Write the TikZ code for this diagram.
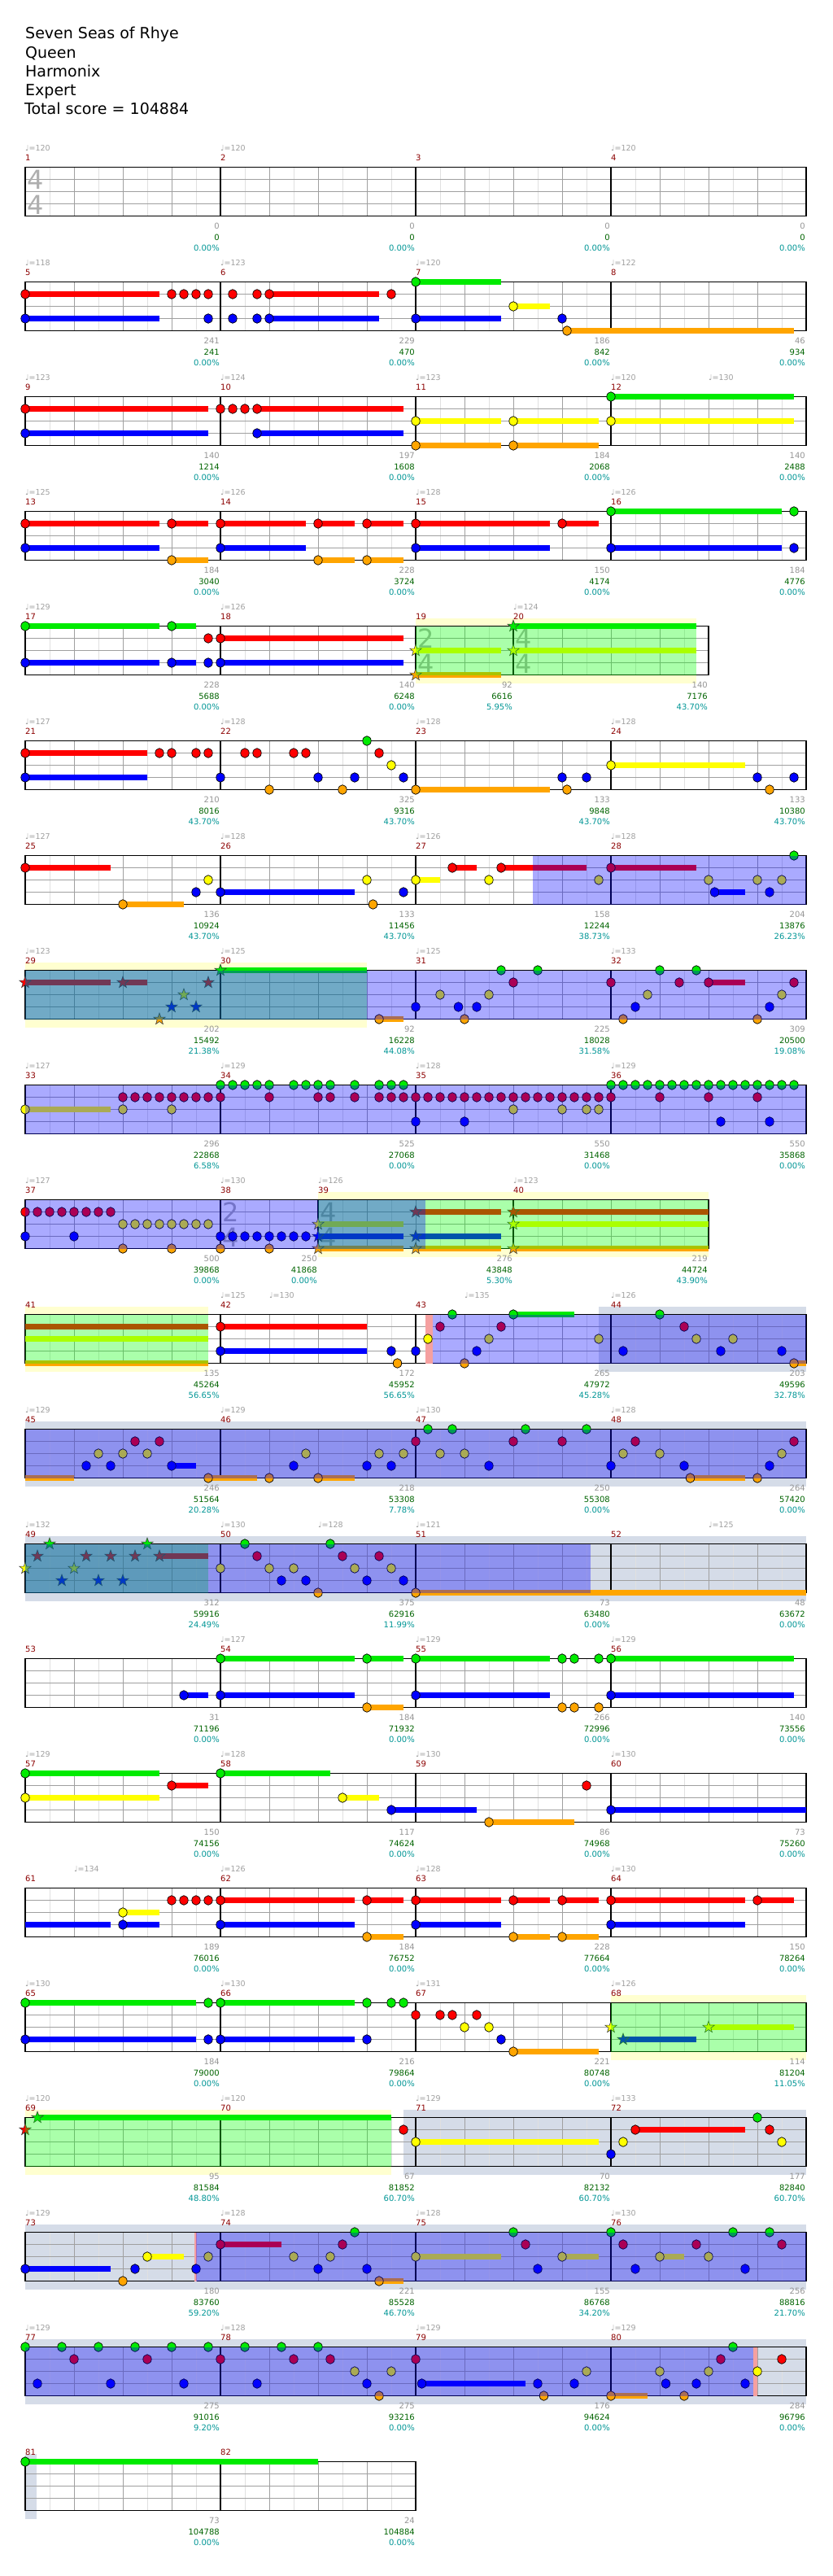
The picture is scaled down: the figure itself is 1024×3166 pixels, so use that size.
\documentclass[tikz,border=0pt]{standalone}
\usepackage{fontspec}
\setmainfont{DejaVu Sans}
\definecolor{l0}{RGB}{0,235,0}
\definecolor{l1}{RGB}{255,0,0}
\definecolor{l2}{RGB}{255,255,0}
\definecolor{l3}{RGB}{0,0,255}
\definecolor{l4}{RGB}{255,165,0}
\definecolor{bandy}{RGB}{255,255,208}
\definecolor{bandg}{RGB}{213,220,232}
\definecolor{pinks}{RGB}{245,160,160}
\definecolor{ovg}{RGB}{0,255,0}
\definecolor{ovb}{RGB}{0,0,255}
\definecolor{mred}{RGB}{140,0,0}
\definecolor{sgr}{RGB}{150,150,150}
\definecolor{sgn}{RGB}{0,100,0}
\definecolor{stl}{RGB}{0,150,150}
\definecolor{tgr}{RGB}{160,160,160}
\definecolor{tsg}{RGB}{175,175,175}
\definecolor{gleight}{RGB}{224,224,224}
\definecolor{glbeat}{RGB}{160,160,160}
\tikzset{
 lab/.style={inner sep=0pt, font=\fontsize{10}{12}\selectfont},
 mnum/.style={lab, anchor=base west, text=mred},
 tempo/.style={lab, anchor=base west, text=tgr, font=\fontsize{9.5}{11}\selectfont},
 scg/.style={lab, anchor=base east, text=sgr, xshift=-1pt},
 scn/.style={lab, anchor=base east, text=sgn, xshift=-1pt},
 scp/.style={lab, anchor=base east, text=stl, xshift=-1pt},
 tsig/.style={inner sep=0pt, text=tsg, font=\fontsize{32}{32}\selectfont},
 ttl/.style={inner sep=0pt, anchor=base west, font=\fontsize{19}{23}\selectfont},
 eline/.style={draw=gleight, line width=0.8pt},
 bline/.style={draw=glbeat, line width=1pt},
 mline/.style={draw=black, line width=1.05pt},
 lline/.style={draw=glbeat, line width=1.1pt},
 bdr/.style={draw=black, line width=1.4pt},
}
\newcommand\nN[2]{\filldraw[fill=l#1,draw=black,line width=0.7pt] (#2,{15*#1}) ellipse [x radius=5.2pt, y radius=5.8pt];}
\newcommand\nSu[3]{\fill[l#1] (#2,{15*#1-3.4}) rectangle (#3,{15*#1+3.4});}
\newcommand\nNS[3]{\nSu{#1}{#2}{#3}\nN{#1}{#2}}
\newcommand\nSt[2]{\filldraw[fill=l#1,draw=black!75,line width=0.6pt] (#2,{15*#1}) +(90:7.5pt) -- +(126:3pt) -- +(162:7.5pt) -- +(198:3pt) -- +(234:7.5pt) -- +(270:3pt) -- +(306:7.5pt) -- +(342:3pt) -- +(18:7.5pt) -- +(54:3pt) -- cycle;}
\newcommand\nSS[3]{\nSu{#1}{#2}{#3}\nSt{#1}{#2}}
\newcommand\nGrid[2]{%
 \foreach \bb in {0.5,1.5,...,#1} {\draw[eline] (\bb,0) -- (\bb,60);}
 \foreach \bb in {1,...,#1} {\draw[bline] (\bb,0) -- (\bb,60);}
 \foreach \jj in {15,30,45} {\draw[lline] (0,\jj) -- (#1,\jj);}
 \foreach \bb in {#2} {\draw[mline] (\bb,0) -- (\bb,60);}
 \draw[bdr] (0,0) rectangle (#1,60);}
\newcommand\nML[6]{\node[mnum] (n-#1) at (#2,-8) {#1};
 \node[scg] (g-#1) at (#3,76) {#4};
 \node[scn] (s-#1) at (#3,89.5) {#5};
 \node[scp] (p-#1) at (#3,102.5) {#6};}
\newcommand\nTp[3]{\node[tempo] (t-#1) at (#2,-20) {♩=#3};}
\newcommand\nTs[4]{\node[tsig] (ts-#1a) at (#2+0.21,15) {#3}; \node[tsig] (ts-#1b) at (#2+0.21,46) {#4};}
\newcommand\nBY[2]{\fill[bandy] (#1,-10) rectangle (#2,0); \fill[bandy] (#1,60) rectangle (#2,70);}
\newcommand\nBG[2]{\fill[bandg] (#1,-10) rectangle (#2,70);}
\newcommand\nOv[3]{\fill[#1,fill opacity=0.3333] (#2,0) rectangle (#3,60);}
\newcommand\nPk[2]{\fill[pinks] (#1,0) rectangle (#2,60);}
\begin{document}
\begin{tikzpicture}[x=1pt,y=-1pt]
\useasboundingbox (0,0) rectangle (1024,3166);
\fill[white] (0,0) rectangle (1024,3166);
\node[ttl] (title) at (31,48) {Seven Seas of Rhye};
\node[ttl] (artist) at (31,71.5) {Queen};
\node[ttl] (author) at (31,95) {Harmonix};
\node[ttl] (diff) at (31,118) {Expert};
\node[ttl] (total) at (30,141) {Total score = 104884};
% row 0
\begin{scope}[shift={(31pt,-205.5pt)},x=60pt]
\nGrid{16}{4,8,12}
\nTs{1}{0}{4}{4}
\nTp{1}{0}{120}\nTp{2}{4}{120}\nTp{4}{12}{120}
\nML{1}{0}{4}{0}{0}{0.00\%}\nML{2}{4}{8}{0}{0}{0.00\%}\nML{3}{8}{12}{0}{0}{0.00\%}\nML{4}{12}{16}{0}{0}{0.00\%}
\end{scope}
% row 1
\begin{scope}[shift={(31pt,-346.5pt)},x=60pt]
\nGrid{16}{4,8,12}
\nNS{1}{0}{2.75}\foreach \bb in {3,3.25,3.5,3.75,4.25,4.75}{\nN{1}{\bb}}\nNS{1}{5}{7.25}\nN{1}{7.5}
\nNS{3}{0}{2.75}\nN{3}{3.75}\nN{3}{4.25}\nN{3}{4.75}\nNS{3}{5}{7.25}\nNS{3}{8}{9.75}\nN{3}{11}
\nNS{0}{8}{9.75}\nNS{2}{10}{10.75}\nNS{4}{11.1}{15.75}
\nTp{5}{0}{118}\nTp{6}{4}{123}\nTp{7}{8}{120}\nTp{8}{12}{122}
\nML{5}{0}{4}{241}{241}{0.00\%}\nML{6}{4}{8}{229}{470}{0.00\%}\nML{7}{8}{12}{186}{842}{0.00\%}\nML{8}{12}{16}{46}{934}{0.00\%}
\end{scope}
% row 2
\begin{scope}[shift={(31pt,-487.5pt)},x=60pt]
\nGrid{16}{4,8,12}
\nNS{1}{0}{3.75}\nN{1}{4}\nN{1}{4.25}\nN{1}{4.5}\nNS{1}{4.75}{7.75}
\nNS{3}{0}{3.75}\nNS{3}{4.75}{7.75}
\nNS{2}{8}{9.75}\nNS{2}{10}{11.75}\nNS{2}{12}{15.75}
\nNS{4}{8}{9.75}\nNS{4}{10}{11.75}
\nNS{0}{12}{15.75}
\nTp{9}{0}{123}\nTp{10}{4}{124}\nTp{11}{8}{123}\nTp{12}{12}{120}\nTp{12b}{14}{130}
\nML{9}{0}{4}{140}{1214}{0.00\%}\nML{10}{4}{8}{197}{1608}{0.00\%}\nML{11}{8}{12}{184}{2068}{0.00\%}\nML{12}{12}{16}{140}{2488}{0.00\%}
\end{scope}
% row 3
\begin{scope}[shift={(31pt,-628.5pt)},x=60pt]
\nGrid{16}{4,8,12}
\nNS{1}{0}{2.75}\nNS{1}{3}{3.75}\nNS{1}{4}{5.75}\nNS{1}{6}{6.75}\nNS{1}{7}{7.75}\nNS{1}{8}{10.75}\nNS{1}{11}{11.75}
\nNS{3}{0}{2.75}\nNS{3}{4}{5.75}\nNS{3}{8}{10.75}\nNS{3}{12}{15.5}\nN{3}{15.75}
\nNS{4}{3}{3.75}\nNS{4}{6}{6.75}\nNS{4}{7}{7.75}
\nNS{0}{12}{15.5}\nN{0}{15.75}
\nTp{13}{0}{125}\nTp{14}{4}{126}\nTp{15}{8}{128}\nTp{16}{12}{126}
\nML{13}{0}{4}{184}{3040}{0.00\%}\nML{14}{4}{8}{228}{3724}{0.00\%}\nML{15}{8}{12}{150}{4174}{0.00\%}\nML{16}{12}{16}{184}{4776}{0.00\%}
\end{scope}
% row 4
\begin{scope}[shift={(31pt,-769.5pt)},x=60pt]
\nBY{8}{13.75}
\nGrid{14}{4,8,10}
\nTs{19}{8}{2}{4}\nTs{20}{10}{4}{4}
\nNS{0}{0}{2.75}\nNS{0}{3}{3.5}
\nN{1}{3.75}\nNS{1}{4}{7.75}
\nNS{3}{0}{2.75}\nNS{3}{3}{3.5}\nN{3}{3.75}\nNS{3}{4}{7.75}
\nSS{2}{8}{9.75}\nSS{4}{8}{9.75}\nSS{0}{10}{13.75}\nSS{2}{10}{13.75}
\nOv{ovg}{8}{13.75}
\nTp{17}{0}{129}\nTp{18}{4}{126}\nTp{20}{10}{124}
\nML{17}{0}{4}{228}{5688}{0.00\%}\nML{18}{4}{8}{140}{6248}{0.00\%}\nML{19}{8}{10}{92}{6616}{5.95\%}\nML{20}{10}{14}{140}{7176}{43.70\%}
\end{scope}
% row 5
\begin{scope}[shift={(31pt,-910.5pt)},x=60pt]
\nGrid{16}{4,8,12}
\nNS{1}{0}{2.5}\foreach \bb in {2.75,3,3.5,3.75,4.5,4.75,5.5,5.75,7.25}{\nN{1}{\bb}}
\nN{0}{7}
\nN{2}{7.5}\nNS{2}{12}{14.75}
\nNS{3}{0}{2.5}\foreach \bb in {4,6,6.75,7.75,11,11.5,15,15.75}{\nN{3}{\bb}}
\nN{4}{5}\nN{4}{6.5}\nNS{4}{8}{10.75}\nN{4}{11.1}\nN{4}{15.25}
\nTp{21}{0}{127}\nTp{22}{4}{128}\nTp{23}{8}{128}\nTp{24}{12}{128}
\nML{21}{0}{4}{210}{8016}{43.70\%}\nML{22}{4}{8}{325}{9316}{43.70\%}\nML{23}{8}{12}{133}{9848}{43.70\%}\nML{24}{12}{16}{133}{10380}{43.70\%}
\end{scope}
% row 6
\begin{scope}[shift={(31pt,-1051.5pt)},x=60pt]
\nGrid{16}{4,8,12}
\nNS{1}{0}{1.75}\nNS{1}{8.75}{9.25}\nNS{1}{9.75}{11.5}\nNS{1}{12}{13.75}
\foreach \bb in {3.75,7,9.5,11.75,14,15,15.5}{\nN{2}{\bb}}\nNS{2}{8}{8.5}
\nN{3}{3.5}\nNS{3}{4}{6.75}\nN{3}{7.75}\nNS{3}{14.125}{14.75}\nN{3}{15.25}
\nNS{4}{2}{3.25}\nN{4}{7.125}
\nN{0}{15.75}
\nOv{ovb}{10.4}{16}
\nTp{25}{0}{127}\nTp{26}{4}{128}\nTp{27}{8}{126}\nTp{28}{12}{128}
\nML{25}{0}{4}{136}{10924}{43.70\%}\nML{26}{4}{8}{133}{11456}{43.70\%}\nML{27}{8}{12}{158}{12244}{38.73\%}\nML{28}{12}{16}{204}{13876}{26.23\%}
\end{scope}
% row 7
\begin{scope}[shift={(31pt,-1192.5pt)},x=60pt]
\nBY{0}{7}
\nGrid{16}{4,8,12}
\nSS{1}{0}{1.75}\nSS{1}{2}{2.5}\nSt{1}{3.75}\nSt{2}{3.25}\nSt{3}{3}\nSt{3}{3.5}\nSt{4}{2.75}\nSS{0}{4}{7}
\nNS{4}{7.25}{7.75}\nN{4}{9}\nN{4}{12.25}\nN{4}{15}
\foreach \bb in {8.5,9.5,12.75,15.5}{\nN{2}{\bb}}
\foreach \bb in {8,8.875,9.25,12.5,15.25}{\nN{3}{\bb}}
\nN{1}{10}\nN{1}{12}\nN{1}{13.4}\nNS{1}{14}{14.75}\nN{1}{15.75}
\foreach \bb in {9.75,10.5,13,13.75}{\nN{0}{\bb}}
\nOv{ovg}{0}{7}\nOv{ovb}{0}{16}
\nTp{29}{0}{123}\nTp{30}{4}{125}\nTp{31}{8}{125}\nTp{32}{12}{133}
\nML{29}{0}{4}{202}{15492}{21.38\%}\nML{30}{4}{8}{92}{16228}{44.08\%}\nML{31}{8}{12}{225}{18028}{31.58\%}\nML{32}{12}{16}{309}{20500}{19.08\%}
\end{scope}
% row 8
\begin{scope}[shift={(31pt,-1333.5pt)},x=60pt]
\nGrid{16}{4,8,12}
\nNS{2}{0}{1.75}\foreach \bb in {2,3,10,11,11.5,11.75}{\nN{2}{\bb}}
\foreach \bb in {2,2.25,...,4}{\nN{1}{\bb}}
\foreach \bb in {5,6,6.25,6.75,13,14,15}{\nN{1}{\bb}}
\foreach \bb in {7.25,7.5,...,12}{\nN{1}{\bb}}
\foreach \bb in {4,4.25,...,5}{\nN{0}{\bb}}
\foreach \bb in {5.5,5.75,6,6.25,6.75,7.25,7.5,7.75}{\nN{0}{\bb}}
\foreach \bb in {12,12.25,...,15.75}{\nN{0}{\bb}}
\foreach \bb in {8,9,14.25,15.25}{\nN{3}{\bb}}
\nOv{ovb}{0}{16}
\nTp{33}{0}{127}\nTp{34}{4}{129}\nTp{35}{8}{128}\nTp{36}{12}{129}
\nML{33}{0}{4}{296}{22868}{6.58\%}\nML{34}{4}{8}{525}{27068}{0.00\%}\nML{35}{8}{12}{550}{31468}{0.00\%}\nML{36}{12}{16}{550}{35868}{0.00\%}
\end{scope}
% row 9
\begin{scope}[shift={(31pt,-1474.5pt)},x=60pt]
\nBY{6}{14}
\nGrid{14}{4,6,10}
\nTs{38}{4}{2}{4}\nTs{39}{6}{4}{4}
\foreach \bb in {0,0.25,...,1.75}{\nN{1}{\bb}}
\foreach \bb in {2,2.25,...,3.75}{\nN{2}{\bb}}
\nN{3}{0}\nN{3}{1}\foreach \bb in {4,4.25,...,5.75}{\nN{3}{\bb}}
\foreach \bb in {2,3,4,5}{\nN{4}{\bb}}
\nSS{2}{6}{7.75}\nSS{3}{6}{7.75}\nSS{4}{6}{7.75}
\nSS{1}{8}{9.75}\nSS{3}{8}{9.75}\nSS{4}{8}{9.75}
\nSS{1}{10}{14}\nSS{2}{10}{14}\nSS{4}{10}{14}
\nOv{ovg}{6}{14}\nOv{ovb}{0}{8.2}
\nTp{37}{0}{127}\nTp{38}{4}{130}\nTp{39}{6}{126}\nTp{40}{10}{123}
\nML{37}{0}{4}{500}{39868}{0.00\%}\nML{38}{4}{6}{250}{41868}{0.00\%}\nML{39}{6}{10}{276}{43848}{5.30\%}\nML{40}{10}{14}{219}{44724}{43.90\%}
\end{scope}
% row 10
\begin{scope}[shift={(31pt,-1615.5pt)},x=60pt]
\nBY{0}{3.75}\nBG{11.75}{16}
\nGrid{16}{4,8,12}
\nPk{8.2}{8.35}
\nSu{1}{0}{3.75}\nSu{2}{0}{3.75}\nSu{4}{0}{3.75}
\nNS{1}{4}{7}\nNS{3}{4}{7}\nN{3}{7.5}\nN{3}{8}\nN{4}{7.625}
\nN{2}{8.25}
\nN{0}{8.75}\nNS{0}{10}{11.25}\nN{0}{13}
\nN{1}{8.5}\nN{1}{9.75}\nN{1}{13.5}
\foreach \bb in {9.5,11.75,13.75,14.5}{\nN{2}{\bb}}
\foreach \bb in {9.25,12.25,14.25,15.5}{\nN{3}{\bb}}
\nN{4}{9}\nNS{4}{15.75}{16}
\nOv{ovg}{0}{3.75}\nOv{ovb}{8.35}{16}
\nTp{42}{4}{125}\nTp{42b}{5}{130}\nTp{43}{9}{135}\nTp{44}{12}{126}
\nML{41}{0}{4}{135}{45264}{56.65\%}\nML{42}{4}{8}{172}{45952}{56.65\%}\nML{43}{8}{12}{265}{47972}{45.28\%}\nML{44}{12}{16}{203}{49596}{32.78\%}
\end{scope}
% row 11
\begin{scope}[shift={(31pt,-1756.5pt)},x=60pt]
\nBG{0}{16}
\nGrid{16}{4,8,12}
\nSu{4}{0}{1}\nNS{4}{3.75}{4.75}\nN{4}{5}\nNS{4}{6}{6.75}\nNS{4}{13.625}{14.75}\nN{4}{15}
\foreach \bb in {2.25,2.75,8,10,11,12.5,15.75}{\nN{1}{\bb}}
\foreach \bb in {1.5,2,2.5,5.75,7.25,7.75,8.5,9,12.25,13,15.5}{\nN{2}{\bb}}
\nNS{3}{3}{3.5}\foreach \bb in {1.25,1.75,5.5,7,7.5,9.5,12,13.5,15.25}{\nN{3}{\bb}}
\foreach \bb in {8.25,8.75,10.25,11.5}{\nN{0}{\bb}}
\nOv{ovb}{0}{16}
\nTp{45}{0}{129}\nTp{46}{4}{129}\nTp{47}{8}{130}\nTp{48}{12}{128}
\nML{45}{0}{4}{246}{51564}{20.28\%}\nML{46}{4}{8}{218}{53308}{7.78\%}\nML{47}{8}{12}{250}{55308}{0.00\%}\nML{48}{12}{16}{264}{57420}{0.00\%}
\end{scope}
% row 12
\begin{scope}[shift={(31pt,-1897.5pt)},x=60pt]
\nBG{0}{16}
\nGrid{16}{4,8,12}
\nSt{2}{0}\nSt{1}{0.25}\nSt{0}{0.5}\nSt{3}{0.75}\nSt{2}{1}\nSt{1}{1.25}\nSt{3}{1.5}\nSt{1}{1.75}\nSt{3}{2}\nSt{1}{2.25}\nSt{0}{2.5}\nSS{1}{2.75}{3.75}
\foreach \bb in {4,5,5.5,6.75,7.5}{\nN{2}{\bb}}
\nN{0}{4.5}\nN{0}{6.25}
\nN{1}{4.75}\nN{1}{6.5}\nN{1}{7.25}
\foreach \bb in {5.25,5.75,7,7.75}{\nN{3}{\bb}}
\nN{4}{6}\nNS{4}{8}{16}
\nOv{ovg}{0}{3.75}\nOv{ovb}{0}{11.58}
\nTp{49}{0}{132}\nTp{50}{4}{130}\nTp{50b}{6}{128}\nTp{51}{8}{121}\nTp{52}{14}{125}
\nML{49}{0}{4}{312}{59916}{24.49\%}\nML{50}{4}{8}{375}{62916}{11.99\%}\nML{51}{8}{12}{73}{63480}{0.00\%}\nML{52}{12}{16}{48}{63672}{0.00\%}
\end{scope}
% row 13
\begin{scope}[shift={(31pt,-2038.5pt)},x=60pt]
\nGrid{16}{4,8,12}
\nNS{0}{4}{6.75}\nNS{0}{7}{7.75}\nNS{0}{8}{10.75}\nN{0}{11}\nN{0}{11.25}\nN{0}{11.75}\nNS{0}{12}{15.75}
\nNS{3}{3.25}{3.75}\nNS{3}{4}{6.75}\nNS{3}{8}{10.75}\nNS{3}{12}{15.75}
\nNS{4}{7}{7.75}\nN{4}{11}\nN{4}{11.25}\nN{4}{11.75}
\nTp{54}{4}{127}\nTp{55}{8}{129}\nTp{56}{12}{129}
\nML{53}{0}{4}{31}{71196}{0.00\%}\nML{54}{4}{8}{184}{71932}{0.00\%}\nML{55}{8}{12}{266}{72996}{0.00\%}\nML{56}{12}{16}{140}{73556}{0.00\%}
\end{scope}
% row 14
\begin{scope}[shift={(31pt,-2179.5pt)},x=60pt]
\nGrid{16}{4,8,12}
\nNS{0}{0}{2.75}\nNS{0}{4}{6.25}
\nNS{1}{3}{3.75}\nN{1}{11.5}
\nNS{2}{0}{2.75}\nNS{2}{6.5}{7.25}
\nNS{3}{7.5}{9.25}\nNS{3}{12}{16}
\nNS{4}{9.5}{11.25}
\nTp{57}{0}{129}\nTp{58}{4}{128}\nTp{59}{8}{130}\nTp{60}{12}{130}
\nML{57}{0}{4}{150}{74156}{0.00\%}\nML{58}{4}{8}{117}{74624}{0.00\%}\nML{59}{8}{12}{86}{74968}{0.00\%}\nML{60}{12}{16}{73}{75260}{0.00\%}
\end{scope}
% row 15
\begin{scope}[shift={(31pt,-2320.5pt)},x=60pt]
\nGrid{16}{4,8,12}
\nSu{3}{0}{1.75}\nNS{3}{2}{2.75}\nNS{3}{4}{6.75}\nNS{3}{8}{9.75}\nNS{3}{12}{14.75}
\nNS{2}{2}{2.75}
\nN{1}{3}\nN{1}{3.25}\nN{1}{3.5}\nN{1}{3.75}\nNS{1}{4}{6.75}\nNS{1}{7}{7.75}\nNS{1}{8}{9.75}\nNS{1}{10}{10.75}\nNS{1}{11}{11.75}\nNS{1}{12}{14.75}\nNS{1}{15}{15.75}
\nNS{4}{7}{7.75}\nNS{4}{10}{10.75}\nNS{4}{11}{11.75}
\nTp{61}{1}{134}\nTp{62}{4}{126}\nTp{63}{8}{128}\nTp{64}{12}{130}
\nML{61}{0}{4}{189}{76016}{0.00\%}\nML{62}{4}{8}{184}{76752}{0.00\%}\nML{63}{8}{12}{228}{77664}{0.00\%}\nML{64}{12}{16}{150}{78264}{0.00\%}
\end{scope}
% row 16
\begin{scope}[shift={(31pt,-2461.5pt)},x=60pt]
\nBY{12}{16}
\nGrid{16}{4,8,12}
\nNS{0}{0}{3.5}\nN{0}{3.75}\nNS{0}{4}{6.75}\nN{0}{7}\nN{0}{7.5}\nN{0}{7.75}
\nNS{3}{0}{3.5}\nN{3}{3.75}\nNS{3}{4}{6.75}\nN{3}{7}\nN{3}{9.75}
\foreach \bb in {8,8.5,8.75,9.25}{\nN{1}{\bb}}
\nN{2}{9}\nN{2}{9.5}
\nNS{4}{10}{11.75}
\nSt{2}{12}\nSS{3}{12.25}{13.75}\nSS{2}{14}{15.75}
\nOv{ovg}{12}{16}
\nTp{65}{0}{130}\nTp{66}{4}{130}\nTp{67}{8}{131}\nTp{68}{12}{126}
\nML{65}{0}{4}{184}{79000}{0.00\%}\nML{66}{4}{8}{216}{79864}{0.00\%}\nML{67}{8}{12}{221}{80748}{0.00\%}\nML{68}{12}{16}{114}{81204}{11.05\%}
\end{scope}
% row 17
\begin{scope}[shift={(31pt,-2602.5pt)},x=60pt]
\nBY{0}{7.5}\nBG{7.75}{16}
\nGrid{16}{4,8,12}
\nSt{1}{0}\nSS{0}{0.25}{7.5}
\nN{1}{7.75}\nNS{1}{12.5}{14.75}\nN{1}{15.25}
\nNS{2}{8}{11.75}\nN{2}{12.25}\nN{2}{15.5}
\nN{3}{12}\nN{0}{15}
\nOv{ovg}{0}{7.5}
\nTp{69}{0}{120}\nTp{70}{4}{120}\nTp{71}{8}{129}\nTp{72}{12}{133}
\nML{69}{0}{4}{95}{81584}{48.80\%}\nML{70}{4}{8}{67}{81852}{60.70\%}\nML{71}{8}{12}{70}{82132}{60.70\%}\nML{72}{12}{16}{177}{82840}{60.70\%}
\end{scope}
% row 18
\begin{scope}[shift={(31pt,-2743.5pt)},x=60pt]
\nBG{0}{16}
\nGrid{16}{4,8,12}
\nPk{3.47}{3.52}
\nNS{3}{0}{1.75}\foreach \bb in {2.25,3.5,6,7,10.5,12.5,14.75}{\nN{3}{\bb}}
\nN{4}{2}\nNS{4}{7.25}{7.75}
\nNS{2}{2.5}{3.25}\nN{2}{3.75}\nN{2}{5.5}\nN{2}{6.25}\nNS{2}{8}{9.75}\nNS{2}{11}{11.75}\nNS{2}{13}{13.5}\nN{2}{14}
\nNS{1}{4}{5.25}\foreach \bb in {6.5,10.25,12.25,13.75,15.5}{\nN{1}{\bb}}
\foreach \bb in {6.75,10,12,14.5,15.25}{\nN{0}{\bb}}
\nOv{ovb}{3.5}{16}
\nTp{73}{0}{129}\nTp{74}{4}{128}\nTp{75}{8}{128}\nTp{76}{12}{130}
\nML{73}{0}{4}{180}{83760}{59.20\%}\nML{74}{4}{8}{221}{85528}{46.70\%}\nML{75}{8}{12}{155}{86768}{34.20\%}\nML{76}{12}{16}{256}{88816}{21.70\%}
\end{scope}
% row 19
\begin{scope}[shift={(31pt,-2884.5pt)},x=60pt]
\nBG{0}{16}
\nGrid{16}{4,8,12}
\nPk{14.92}{15}
\foreach \bb in {0,0.75,1.5,2.25,3,3.75,4.5,5.25,6,14.5}{\nN{0}{\bb}}
\foreach \bb in {1,2.5,4,5.5,6.25,8,14.25,15.5}{\nN{1}{\bb}}
\foreach \bb in {6.75,7.5,11.5,13,14,15}{\nN{2}{\bb}}
\nNS{3}{8.125}{10.25}\foreach \bb in {0.25,1.75,3.25,4.75,7,10.5,11.25,13.125,13.75,14.75}{\nN{3}{\bb}}
\nN{4}{7.25}\nN{4}{10.625}\nNS{4}{12}{12.75}\nN{4}{13.5}
\nOv{ovb}{0}{14.92}
\nTp{77}{0}{129}\nTp{78}{4}{128}\nTp{79}{8}{129}\nTp{80}{12}{129}
\nML{77}{0}{4}{275}{91016}{9.20\%}\nML{78}{4}{8}{275}{93216}{0.00\%}\nML{79}{8}{12}{176}{94624}{0.00\%}\nML{80}{12}{16}{284}{96796}{0.00\%}
\end{scope}
% row 20
\begin{scope}[shift={(31pt,-3025.5pt)},x=60pt]
\nBG{0}{0.24}
\nGrid{8}{4}
\nNS{0}{0}{6}
\nML{81}{0}{4}{73}{104788}{0.00\%}\nML{82}{4}{8}{24}{104884}{0.00\%}
\end{scope}
\end{tikzpicture}
\end{document}
